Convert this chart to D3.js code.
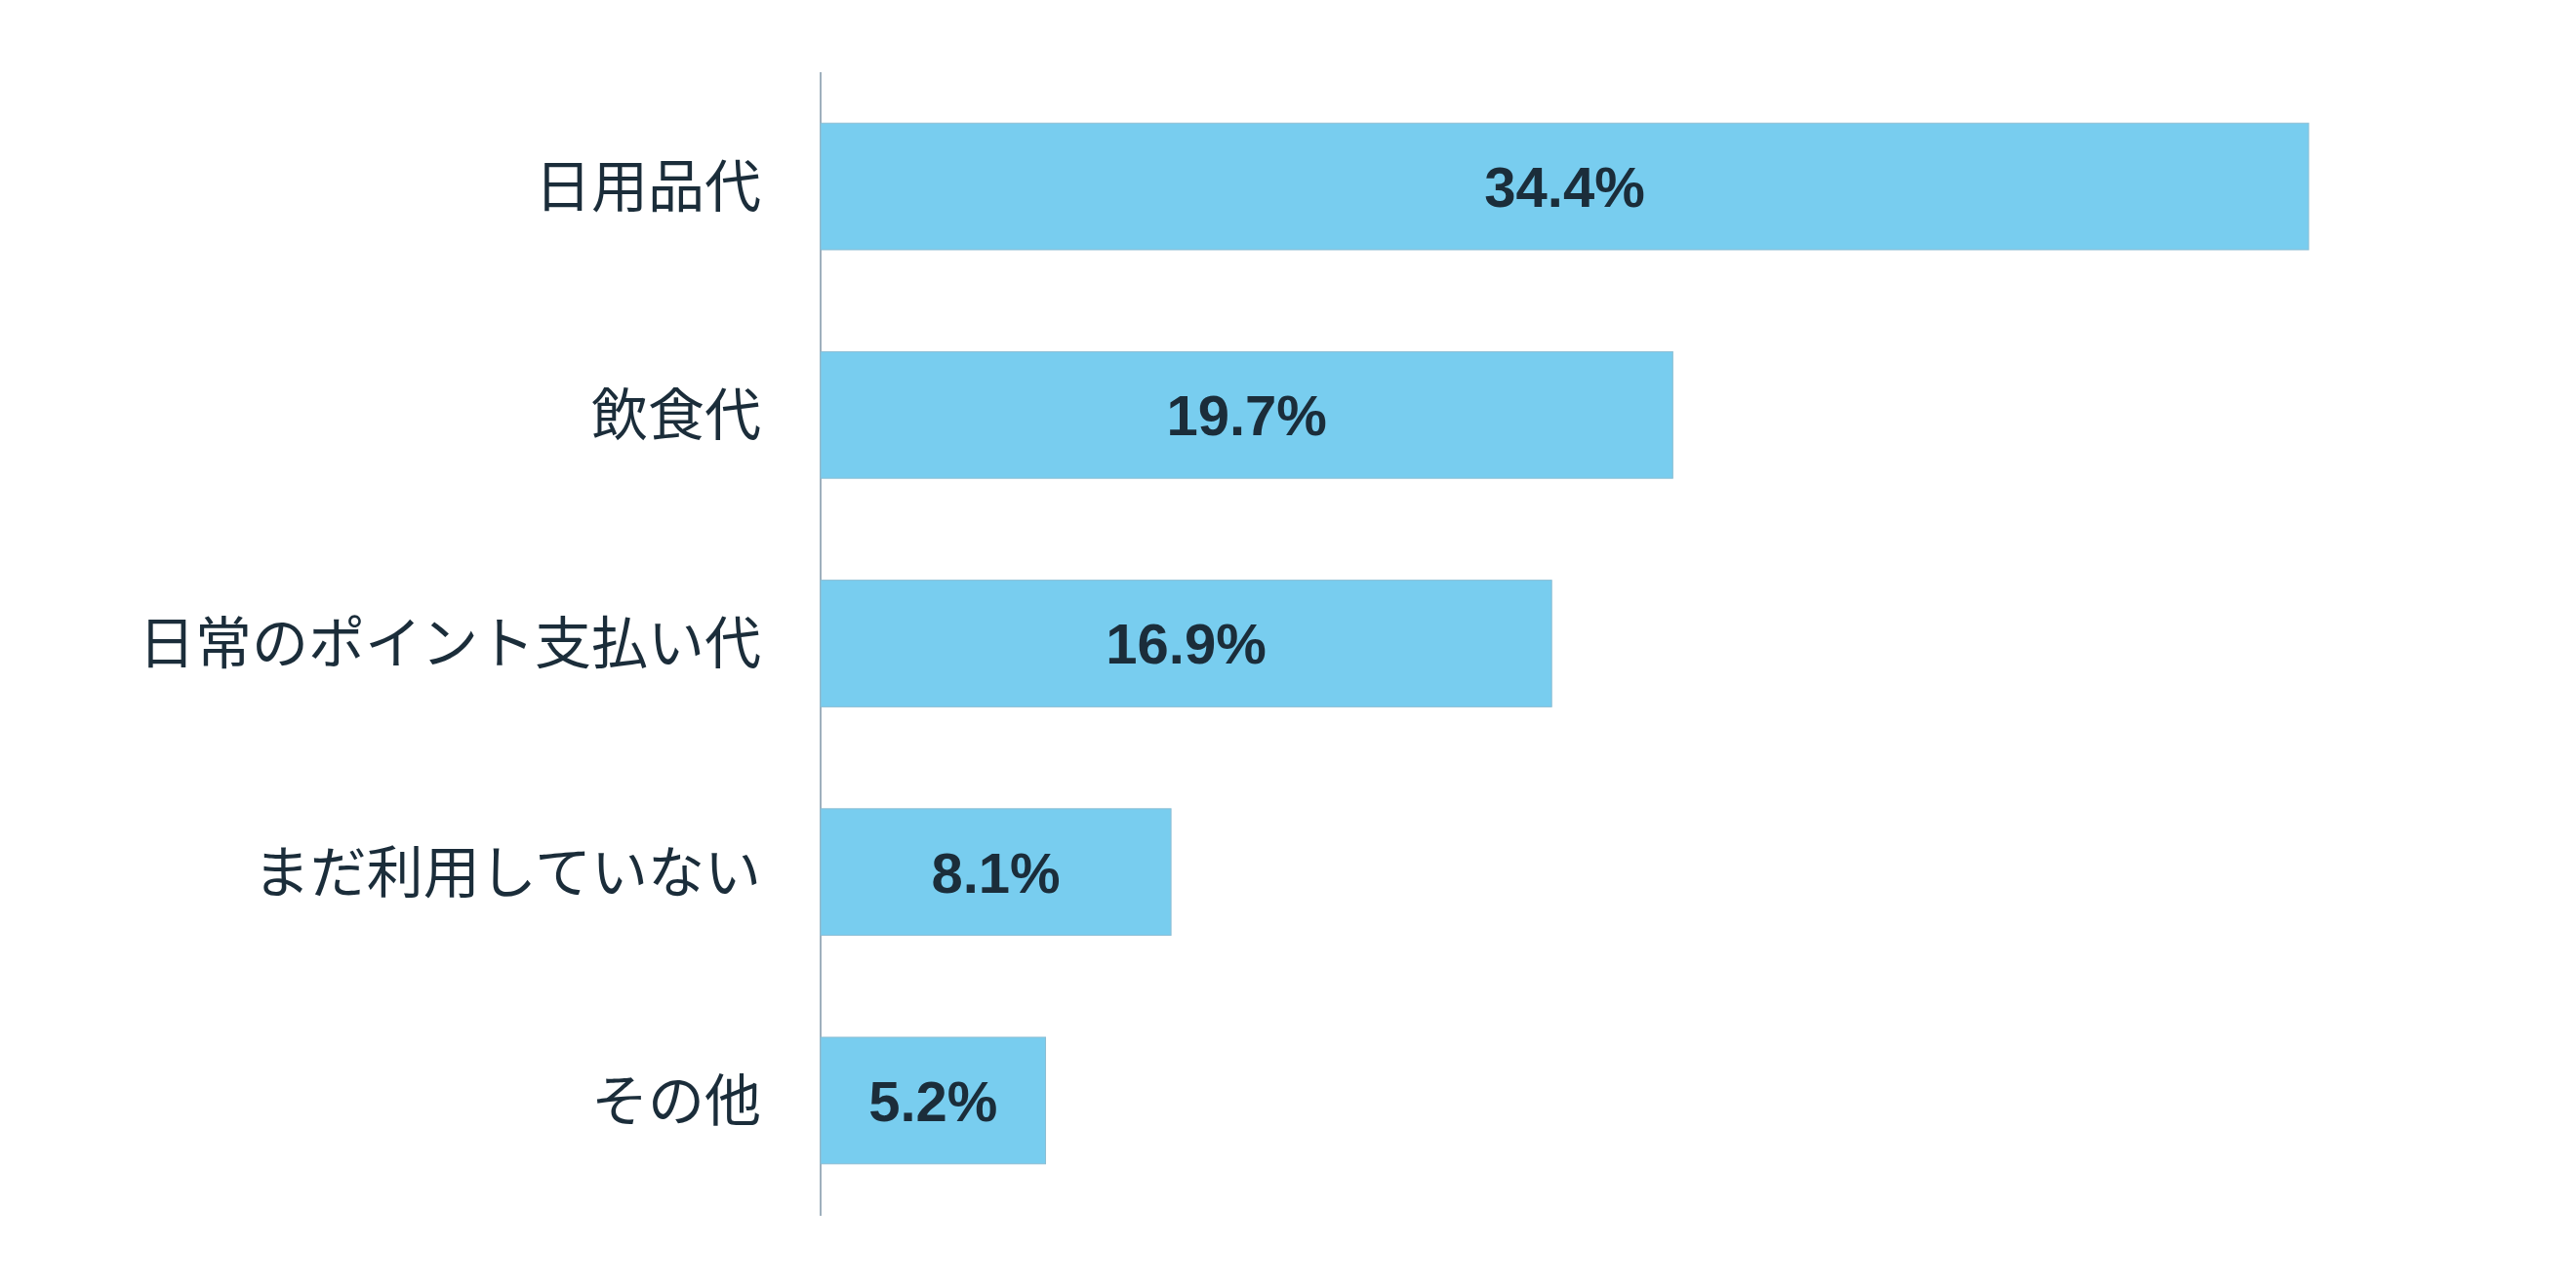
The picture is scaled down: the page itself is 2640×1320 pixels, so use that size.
<!DOCTYPE html>
<html><head><meta charset="utf-8">
<script src="https://cdn.jsdelivr.net/npm/d3@7"></script>
<style>body{margin:0;background:#fff}</style>
</head><body>
<script>
const categories = ["日用品代","飲食代","日常のポイント支払い代","まだ利用していない","その他"];
const values = [34.4, 19.7, 16.9, 8.1, 5.2];

const W = 2640, H = 1320;
const svg = d3.select("body").append("svg").attr("width", W).attr("height", H);
const x0 = 841;
const x = d3.scaleLinear().domain([0, 34.4]).range([x0, 2366]);
const y = d3.scaleBand().domain(categories).range([74, 1245]).paddingInner(0.446).paddingOuter(0.223);

svg.append("line").attr("x1", x0).attr("x2", x0).attr("y1", 74).attr("y2", 1246)
  .attr("stroke", "#9fb0bd").attr("stroke-width", 2);

svg.selectAll("rect.bar").data(values).join("rect")
  .attr("x", x0).attr("y", (d,i) => y(categories[i]))
  .attr("width", d => x(d) - x0).attr("height", y.bandwidth())
  .attr("fill", "#78cdef").attr("stroke", "#8bbdd3").attr("stroke-width", 1);

svg.selectAll("text.val").data(values).join("text")
  .attr("x", d => (x0 + x(d)) / 2).attr("y", (d,i) => y(categories[i]) + y.bandwidth()/2)
  .attr("dy", "0.36em").attr("text-anchor", "middle")
  .attr("font-family", "Liberation Sans, Arial, sans-serif").attr("font-weight", "bold")
  .attr("font-size", 58).attr("fill", "#1b2d3a")
  .text(d => d.toFixed(1) + "%");

svg.selectAll("text.cat").data(categories).join("text")
  .attr("x", 780).attr("y", d => y(d) + y.bandwidth()/2)
  .attr("dy", "0.36em").attr("text-anchor", "end")
  .attr("font-family", "Noto Sans CJK JP, sans-serif")
  .attr("font-size", 58).attr("fill", "#1b2d3a")
  .text(d => d);
</script>
</body></html>
